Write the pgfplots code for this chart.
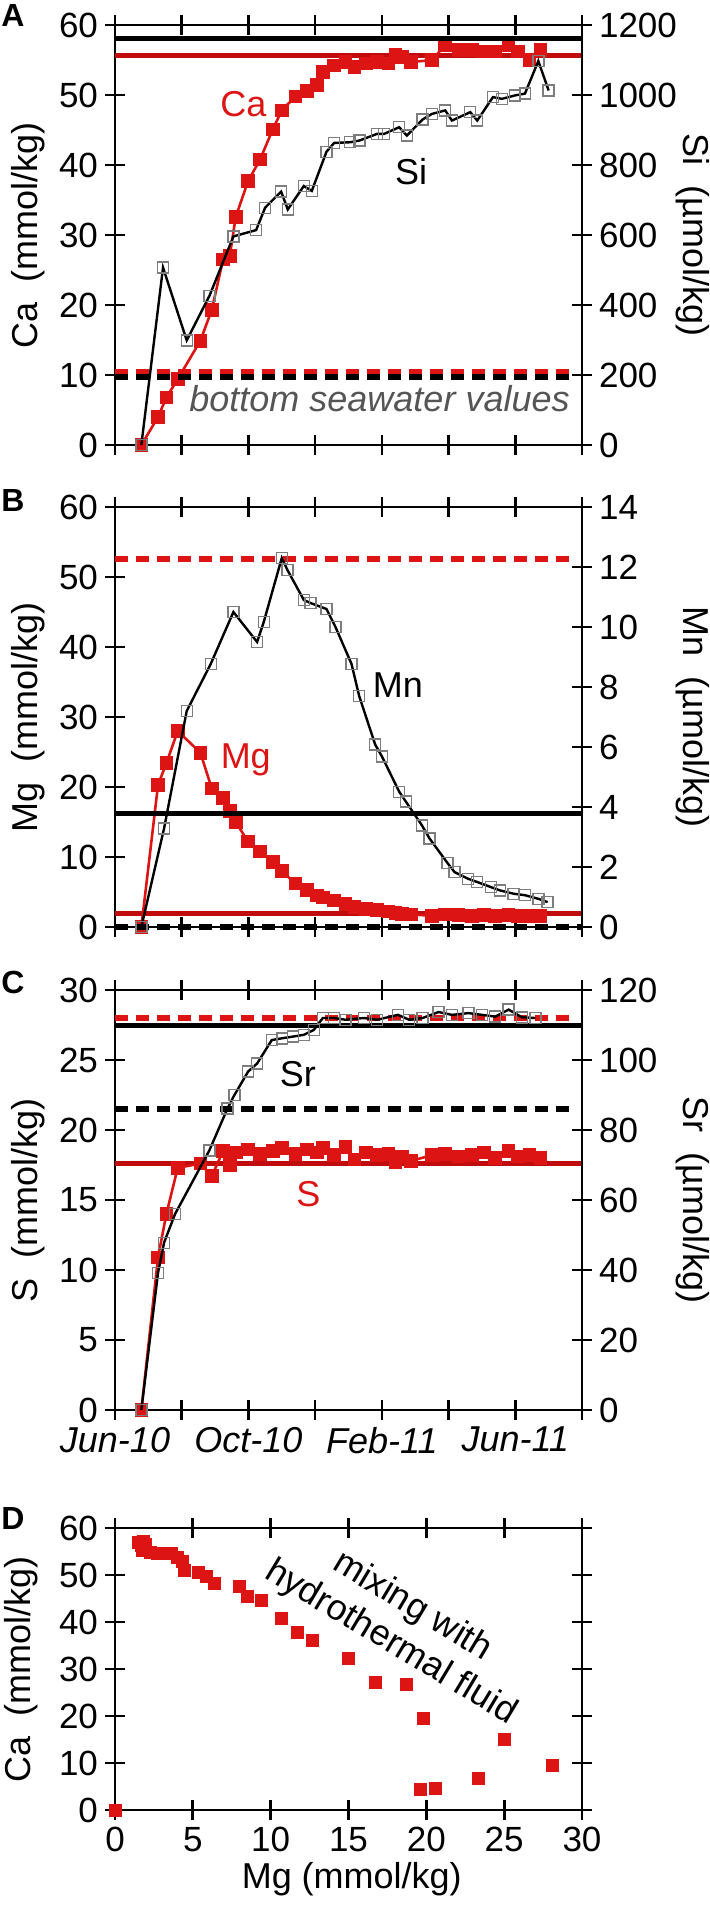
\documentclass[border=0pt]{standalone}
\usepackage{fontspec}
\setmainfont{Liberation Sans}
\usepackage{pgfplots}
\pgfplotsset{compat=1.18}
\pgfkeys{/pgf/number format/1000 sep={}}
\definecolor{cred}{RGB}{220,20,20}
\definecolor{lred}{RGB}{192,12,12}
\definecolor{sqgray}{RGB}{125,125,125}
\definecolor{txtgray}{RGB}{85,85,85}
\newcommand{\tfont}{\fontsize{17.5}{17.5}\selectfont}
\newcommand{\lfont}{\fontsize{18}{18}\selectfont}
\newcommand{\afont}{\fontsize{18}{18}\selectfont}
\pgfplotsset{
  panel/.style={
    scale only axis, width=233.5pt, height=210pt,
    xmin=0, xmax=14, clip=false,
    tick align=center, major tick length=10pt,
    axis line style={line width=1.35pt},
    every tick/.style={black, line width=1.35pt},
    tick label style={font=\tfont},
    /pgf/number format/assume math mode=true,
    /pgf/number format/1000 sep={},
    label style={font=\lfont},
  },
  lpanel/.style={panel, xtick={0,2,...,14}, xtick pos=both, ytick pos=left,
    xticklabels={},
    ylabel style={at={(axis description cs:-0.185,0.5)}, anchor=center}},
  rpanel/.style={panel, axis y line*=right, axis x line=none, ytick pos=right,
    ylabel style={at={(axis description cs:1.238,0.5)}, anchor=center, rotate=180}},
  refline/.style={line width=2.5pt, no marks},
  refdash/.style={line width=3pt, no marks, dash pattern=on 6.5pt off 4pt},
  sqfill/.style={cred, line width=1.3pt, mark=square*, mark size=2.75pt, mark options={solid, fill=cred, draw=cred}},
  sqopen/.style={black, line width=1.2pt, mark=square, mark size=2.75pt, mark options={solid, draw=sqgray, line width=0.7pt}},
}
\begin{document}
\begin{tikzpicture}
\useasboundingbox (0,0) rectangle (354.5pt,-952.5pt);
\node[font=\fontsize{16}{16}\selectfont\bfseries] at (6.5pt,-7.5pt) {A};
\node[font=\fontsize{16}{16}\selectfont\bfseries] at (6.5pt,-250pt) {B};
\node[font=\fontsize{16}{16}\selectfont\bfseries] at (6.5pt,-491pt) {C};
\node[font=\fontsize{16}{16}\selectfont\bfseries] at (6.5pt,-759pt) {D};
% ---------------- Panel A ----------------
\begin{axis}[lpanel, at={(57.5pt,-222.5pt)}, anchor=south west,
  ymin=0, ymax=60, ytick={0,10,...,60}, ylabel={Ca\ \ (mmol/kg)}]
\addplot[lred, refline] coordinates {(0,55.7) (14,55.7)};
\addplot[cred, refdash] coordinates {(0,10.4) (13.6,10.4)};
\addplot[sqfill] coordinates {(0.79,0) (1.29,4.0) (1.54,6.8) (1.88,9.4) (2.56,14.9) (2.90,19.3) (3.24,26.5) (3.44,27.0) (3.62,32.6) (3.99,37.7) (4.35,40.8) (4.73,45.1) (5.0,47.8) (5.41,49.8) (5.76,50.6) (6.05,51.4) (6.23,53.3) (6.57,54.2) (6.91,54.7) (7.18,54.0) (7.52,54.5) (7.86,54.7) (8.2,54.5) (8.41,55.7) (8.6,55.4) (8.88,54.7) (9.5,55.0) (9.9,57.1) (10.3,56.4) (10.7,56.4) (11.06,56.2) (11.4,56.2) (11.8,57.1) (12.08,56.2) (12.42,55.0) (12.76,56.4)};
\node[text=cred, font=\afont] at (axis cs:3.85,48.7) {Ca};
\node[font=\afont] at (axis cs:8.88,39.1) {Si};
\node[text=txtgray, font=\afont\itshape] at (axis cs:7.93,6.6) {bottom seawater values};
\end{axis}
\begin{axis}[rpanel, at={(57.5pt,-222.5pt)}, anchor=south west,
  ymin=0, ymax=1200, ytick={0,200,...,1200}, ylabel={Si\ \ (µmol/kg)}]
\addplot[black, refline] coordinates {(0,1162) (14,1162)};
\addplot[black, refdash] coordinates {(0,194) (13.6,194)};
\addplot[sqopen] coordinates {(0.79,0) (1.44,507) (2.15,299) (2.83,426) (3.55,596) (4.23,614) (4.5,678) (4.98,724) (5.18,673) (5.66,740) (5.9,726) (6.34,838) (6.57,863) (7.05,865) (7.33,870) (7.86,889) (8.07,889) (8.52,908) (8.75,884) (9.22,930) (9.5,946) (9.9,956) (10.1,927) (10.65,951) (10.86,927) (11.33,994) (11.6,989) (12.0,999) (12.29,1004) (12.69,1097) (13.0,1013)};
\end{axis}
% ---------------- Panel B ----------------
\begin{axis}[lpanel, at={(57.5pt,-463.5pt)}, anchor=south west,
  ymin=0, ymax=60, ytick={0,10,...,60}, ylabel={Mg\ \ (mmol/kg)}]
\addplot[cred, refdash] coordinates {(0,52.6) (13.6,52.6)};
\addplot[lred, refline] coordinates {(0,1.9) (14,1.9)};
\addplot[sqfill] coordinates {(0.79,0) (1.29,20.3) (1.54,23.4) (1.88,28.0) (2.56,24.9) (2.90,19.8) (3.24,18.4) (3.44,16.6) (3.62,15.0) (3.99,12.2) (4.35,10.8) (4.73,9.3) (5.0,8.0) (5.41,6.2) (5.76,5.3) (6.05,4.5) (6.23,4.2) (6.57,3.8) (6.91,3.3) (7.18,2.9) (7.52,2.6) (7.86,2.4) (8.2,2.2) (8.41,2.0) (8.6,1.9) (8.88,1.8) (9.5,1.6) (9.9,1.8) (10.3,1.7) (10.7,1.6) (11.06,1.7) (11.4,1.6) (11.8,1.7) (12.08,1.6) (12.42,1.6) (12.76,1.6)};
\node[text=cred, font=\afont] at (axis cs:3.92,23.9) {Mg};
\node[font=\afont] at (axis cs:8.48,34.5) {Mn};
\end{axis}
\begin{axis}[rpanel, at={(57.5pt,-463.5pt)}, anchor=south west,
  ymin=0, ymax=14, ytick={0,2,...,14}, ylabel={Mn\ \ (µmol/kg)}]
\addplot[black, refline] coordinates {(0,3.8) (14,3.8)};
\addplot[black, refdash] coordinates {(0,0) (14,0)};
\addplot[sqopen] coordinates {(0.79,0) (1.47,3.28) (2.15,7.2) (2.87,8.77) (3.55,10.5) (4.26,9.5) (4.46,10.17) (5.0,12.3) (5.17,11.9) (5.66,10.9) (5.86,10.8) (6.34,10.6) (6.61,10.0) (7.09,8.77) (7.32,7.7) (7.8,6.08) (8.0,5.69) (8.52,4.51) (8.72,4.18) (9.2,3.39) (9.43,2.95) (9.97,2.13) (10.18,1.83) (10.58,1.61) (10.86,1.5) (11.27,1.33) (11.54,1.22) (11.95,1.11) (12.29,1.06) (12.69,0.94) (12.97,0.83)};
\end{axis}
% ---------------- Panel C ----------------
\begin{axis}[lpanel, at={(57.5pt,-705pt)}, anchor=south west,
  ymin=0, ymax=30, ytick={0,5,...,30}, ylabel={S\ \ (mmol/kg)},
  xticklabels={Jun-10,,Oct-10,,Feb-11,,Jun-11,},
  xticklabel style={font=\fontsize{18}{18}\selectfont\itshape}]
\addplot[cred, refdash] coordinates {(0,28.0) (13.6,28.0)};
\addplot[lred, refline] coordinates {(0,17.6) (14,17.6)};
\addplot[sqfill] coordinates {(0.79,0) (1.29,10.9) (1.54,14.0) (1.88,17.3) (2.56,17.6) (2.90,16.7) (3.24,18.5) (3.44,17.5) (3.62,18.4) (3.99,18.6) (4.35,18.3) (4.73,18.5) (5.0,18.7) (5.41,18.3) (5.76,18.6) (6.05,18.4) (6.23,18.7) (6.57,18.2) (6.91,18.8) (7.18,17.9) (7.52,18.4) (7.86,18.2) (8.2,18.3) (8.41,17.7) (8.6,18.1) (8.88,17.8) (9.5,18.2) (9.9,18.3) (10.3,18.1) (10.7,18.2) (11.06,18.4) (11.4,18.0) (11.8,18.5) (12.08,18.1) (12.42,18.2) (12.76,18.0)};
\node[text=cred, font=\afont] at (axis cs:5.8,15.4) {S};
\node[font=\afont] at (axis cs:5.48,24.0) {Sr};
\end{axis}
\begin{axis}[rpanel, at={(57.5pt,-705pt)}, anchor=south west,
  ymin=0, ymax=120, ytick={0,20,...,120}, ylabel={Sr\ \ (µmol/kg)}]
\addplot[black, refline] coordinates {(0,109.8) (14,109.8)};
\addplot[black, refdash] coordinates {(0,86) (13.6,86)};
\addplot[sqopen] coordinates {(0.79,0) (1.29,39.2) (1.47,47.8) (1.8,56) (2.83,74.2) (3.37,86.1) (3.58,90) (3.99,96.7) (4.26,99) (4.7,105.7) (5.0,106.2) (5.34,106.7) (5.66,107.2) (5.96,108.6) (6.23,112) (6.57,112) (6.91,111.5) (7.46,112) (7.86,111.5) (8.48,112.9) (8.82,111.5) (9.22,112) (9.7,113.7) (10.1,112.9) (10.6,113.4) (11.0,112.9) (11.4,112.4) (11.8,114.4) (12.2,112.2) (12.6,112)};
\end{axis}
% ---------------- Panel D ----------------
\begin{axis}[scale only axis, width=233.5pt, height=141pt,
  at={(57.5pt,-905pt)}, anchor=south west, clip=false,
  xmin=0, xmax=30, ymin=0, ymax=60,
  xtick={0,5,...,30}, ytick={0,10,...,60},
  xtick pos=both, ytick pos=both, xticklabel pos=lower, yticklabel pos=left,
  tick align=center, major tick length=10pt,
  axis line style={line width=1.35pt},
  every tick/.style={black, line width=1.35pt},
  tick label style={font=\tfont},
  /pgf/number format/assume math mode=true,
  label style={font=\lfont},
  xlabel={Mg (mmol/kg)}, ylabel={Ca\ \ (mmol/kg)},
  ylabel style={at={(axis description cs:-0.2,0.5)}, anchor=center},
  xlabel style={at={(axis description cs:0.507,-0.245)}, anchor=center}]
\addplot[only marks, mark=square*, mark size=3pt, mark options={fill=cred, draw=cred}] coordinates {(0,0) (1.5,57.0) (1.8,57.2) (1.68,56.2) (1.97,56.5) (1.76,55.3) (2.26,54.9) (2.7,54.5) (3.15,54.5) (3.6,54.5) (4.0,53.7) (4.3,52.9) (4.47,51.0) (5.35,50.6) (5.9,49.8) (6.4,48.2) (8.0,47.5) (8.5,45.5) (9.4,44.7) (10.7,40.8) (11.7,37.9) (12.65,36.1) (15.0,32.3) (16.7,27.2) (18.7,26.8) (19.8,19.5) (25.0,15.1) (28.1,9.6) (23.35,6.7) (20.6,4.5) (19.6,4.3)};
\node[rotate=-31, align=center, font=\fontsize{18}{21}\selectfont] at (axis cs:18.4,39.4) {mixing with\\hydrothermal fluid};
\end{axis}
\end{tikzpicture}
\end{document}
